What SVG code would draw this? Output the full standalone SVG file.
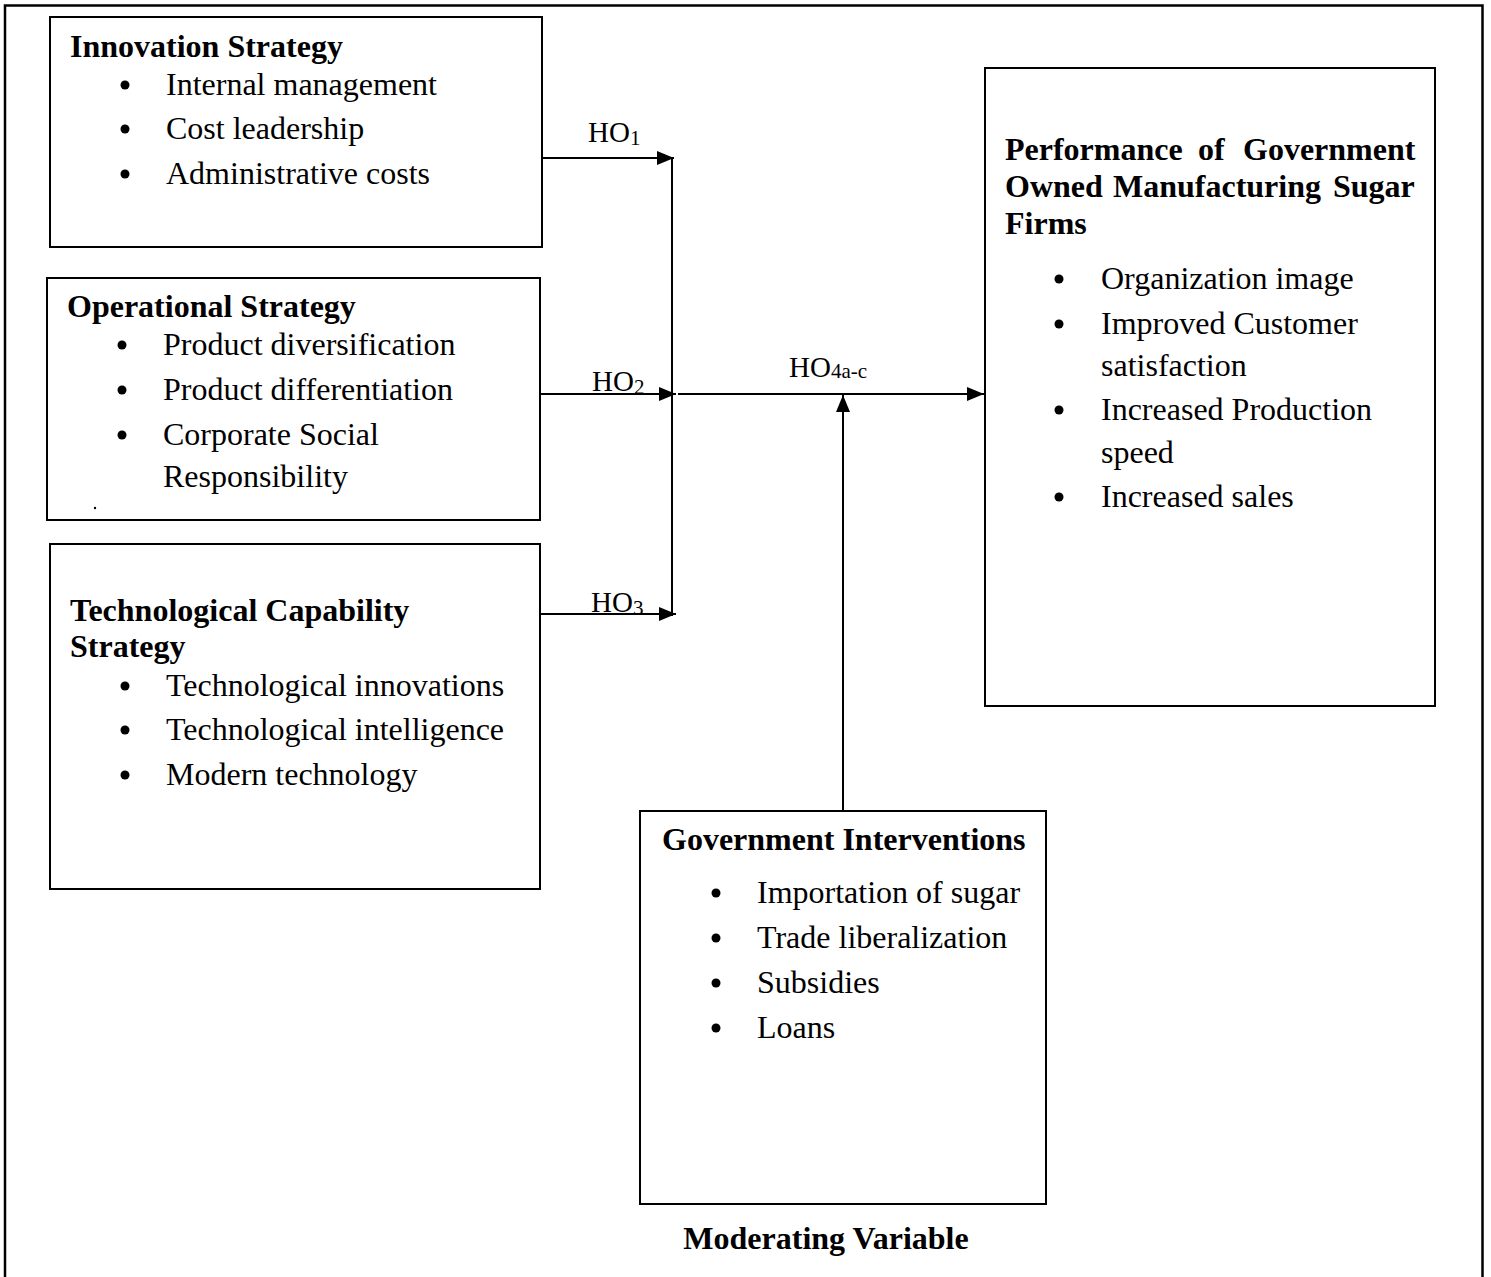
<svg xmlns="http://www.w3.org/2000/svg" width="1491" height="1277" viewBox="0 0 1491 1277">
<style>
.box{fill:#fff;stroke:#000;stroke-width:2}
.t{font-family:"Liberation Serif","Times New Roman",serif;font-size:32px;fill:#000}
.b{font-weight:bold}
.ho{font-family:"Liberation Serif","Times New Roman",serif;font-size:29px;fill:#000}
.sub{font-size:21px}
.ln{stroke:#000;stroke-width:2;fill:none}
.dot{fill:#000}
</style>
<defs>
<marker id="ah" markerWidth="18" markerHeight="16" refX="17" refY="8" orient="auto" markerUnits="userSpaceOnUse">
<path d="M0,1 L17,8 L0,15 Z" fill="#000"/>
</marker>
</defs>
<rect width="1491" height="1277" fill="#fff"/>
<path d="M5,1277 V5.5 H1482.5 V1277" fill="none" stroke="#000" stroke-width="2.5"/>

<g id="innovation">
<rect class="box" x="50" y="17" width="492" height="230"/>
<text class="t b" x="70" y="57">Innovation Strategy</text>
<circle class="dot" cx="125" cy="85" r="4.5"/><text class="t" x="166" y="95">Internal management</text>
<circle class="dot" cx="125" cy="129" r="4.5"/><text class="t" x="166" y="139">Cost leadership</text>
<circle class="dot" cx="125" cy="174" r="4.5"/><text class="t" x="166" y="184">Administrative costs</text>
</g>

<g id="operational">
<rect class="box" x="47" y="278" width="493" height="242"/>
<text class="t b" x="67" y="317">Operational Strategy</text>
<circle class="dot" cx="122" cy="345" r="4.5"/><text class="t" x="163" y="355">Product diversification</text>
<circle class="dot" cx="122" cy="390" r="4.5"/><text class="t" x="163" y="400">Product differentiation</text>
<circle class="dot" cx="122" cy="435" r="4.5"/><text class="t" x="163" y="445">Corporate Social</text>
<text class="t" x="163" y="487">Responsibility</text>
<circle class="dot" cx="95" cy="508" r="1.2"/>
</g>

<g id="technological">
<rect class="box" x="50" y="544" width="490" height="345"/>
<text class="t b" x="70" y="621">Technological Capability</text>
<text class="t b" x="70" y="657">Strategy</text>
<circle class="dot" cx="125" cy="686" r="4.5"/><text class="t" x="166" y="696">Technological innovations</text>
<circle class="dot" cx="125" cy="730" r="4.5"/><text class="t" x="166" y="740">Technological intelligence</text>
<circle class="dot" cx="125" cy="775" r="4.5"/><text class="t" x="166" y="785">Modern technology</text>
</g>

<g id="performance">
<rect class="box" x="985" y="68" width="450" height="638"/>
<text class="t b" y="160"><tspan x="1005">Performance</tspan><tspan x="1198">of</tspan><tspan x="1243">Government</tspan></text>
<text class="t b" y="197"><tspan x="1005">Owned</tspan><tspan x="1113">Manufacturing</tspan><tspan x="1333">Sugar</tspan></text>
<text class="t b" x="1005" y="234">Firms</text>
<circle class="dot" cx="1059" cy="279" r="4.5"/><text class="t" x="1101" y="289">Organization image</text>
<circle class="dot" cx="1059" cy="324" r="4.5"/><text class="t" x="1101" y="334">Improved Customer</text>
<text class="t" x="1101" y="376">satisfaction</text>
<circle class="dot" cx="1059" cy="410" r="4.5"/><text class="t" x="1101" y="420">Increased Production</text>
<text class="t" x="1101" y="463">speed</text>
<circle class="dot" cx="1059" cy="497" r="4.5"/><text class="t" x="1101" y="507">Increased sales</text>
</g>

<g id="government">
<rect class="box" x="640" y="811" width="406" height="393"/>
<text class="t b" x="662" y="850">Government Interventions</text>
<circle class="dot" cx="716" cy="893" r="4.5"/><text class="t" x="757" y="903">Importation of sugar</text>
<circle class="dot" cx="716" cy="938" r="4.5"/><text class="t" x="757" y="948">Trade liberalization</text>
<circle class="dot" cx="716" cy="983" r="4.5"/><text class="t" x="757" y="993">Subsidies</text>
<circle class="dot" cx="716" cy="1028" r="4.5"/><text class="t" x="757" y="1038">Loans</text>
</g>

<g id="moderating-label">
<text class="t b" x="826" y="1249" text-anchor="middle">Moderating Variable</text>
</g>

<g id="connectors">
<line class="ln" x1="542" y1="158" x2="674" y2="158" marker-end="url(#ah)"/>
<line class="ln" x1="540" y1="394" x2="676" y2="394" marker-end="url(#ah)"/>
<line class="ln" x1="540" y1="614" x2="676" y2="614" marker-end="url(#ah)"/>
<line class="ln" x1="672" y1="158" x2="672" y2="616"/>
<line class="ln" x1="678" y1="394" x2="984" y2="394" marker-end="url(#ah)"/>
<line class="ln" x1="843" y1="811" x2="843" y2="395" marker-end="url(#ah)"/>
<text class="ho" x="588" y="142">HO<tspan class="sub" dy="3">1</tspan></text>
<text class="ho" x="592" y="391">HO<tspan class="sub" dy="3">2</tspan></text>
<text class="ho" x="591" y="612">HO<tspan class="sub" dy="3">3</tspan></text>
<text class="ho" x="789" y="377">HO<tspan class="sub" dy="1">4a-c</tspan></text>
</g>
</svg>
